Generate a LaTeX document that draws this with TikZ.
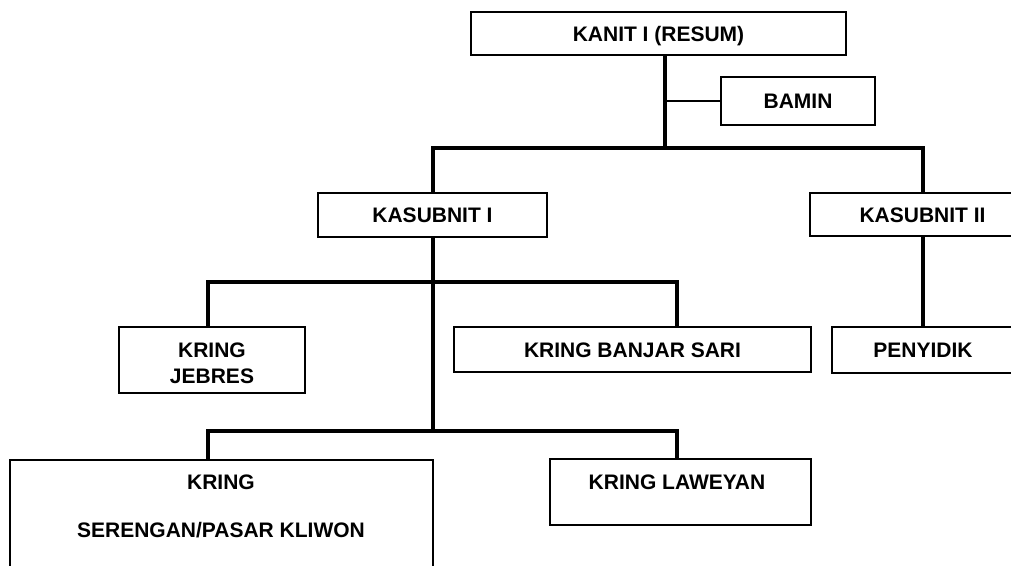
\documentclass[tikz,border=0pt]{standalone}
\usepackage{fontspec}
\setmainfont{Liberation Sans}
\begin{document}
\begin{tikzpicture}[x=1pt,y=-1pt,
  txt/.style={font=\fontsize{21}{26}\selectfont\bfseries},
  box/.style={draw, line width=2pt, rectangle, inner sep=0pt, txt, text height=15pt, text depth=0pt},
  lbl/.style={inner sep=0pt, txt, text height=15pt, text depth=0pt},
  conn/.style={line width=4pt},
  thinconn/.style={line width=1.2pt}]
\useasboundingbox (0,0) rectangle (1011,565);
\clip (0,0) rectangle (1011,565);
% boxes
\node[box, minimum width=375pt, minimum height=43pt] (kanit) at (658.5,33.5) {KANIT I (RESUM)};
\node[box, minimum width=154pt, minimum height=48pt] (bamin) at (798,101) {BAMIN};
\node[box, minimum width=229pt, minimum height=44pt] (ks1) at (432.5,215) {KASUBNIT I};
\node[box, minimum width=225pt, minimum height=43pt] (ks2) at (922.5,214.5) {KASUBNIT II};
\node[box, minimum width=186pt, minimum height=66pt] (jeb) at (212,360) {};
\node[lbl] (jebt1) at (212,350) {KRING};
\node[lbl] (jebt2) at (212,376) {JEBRES};
\node[box, minimum width=357pt, minimum height=45pt] (ban) at (632.5,349.5) {KRING BANJAR SARI};
\node[box, minimum width=182pt, minimum height=46pt] (pen) at (923,350) {PENYIDIK};
\node[box, minimum width=423pt, minimum height=140pt] (ser) at (221.5,530) {};
\node[lbl] (sert1) at (221,482) {KRING};
\node[lbl] (sert2) at (221,530) {SERENGAN/PASAR KLIWON};
\node[box, minimum width=261pt, minimum height=66pt] (law) at (680.5,492) {};
\node[lbl] (lawt) at (677,482) {KRING LAWEYAN};
% junction points
\coordinate (j1) at (665,148);
\coordinate (b2l) at (208,282);
\coordinate (b2r) at (677,282);
\coordinate (b3) at (433,431);
\coordinate (b3l) at (208,431);
\coordinate (b3r) at (677,431);
% connectors
\draw[conn] (kanit.south -| j1) -- (j1);
\draw[thinconn] (j1 |- bamin.west) -- (bamin.west);
\draw[conn] (ks1.north) -- (ks1.north |- j1) -- (ks2.north |- j1) -- (ks2.north);
\draw[conn] (ks1.south) -- (ks1.south |- b3);
\draw[conn] (jeb.north -| b2l) -- (b2l) -- (b2r) -- (ban.north -| b2r);
\draw[conn] (ser.north -| b3l) -- (b3l) -- (b3r) -- (law.north -| b3r);
\draw[conn] (ks2.south) -- (ks2.south |- pen.north);
\end{tikzpicture}
\end{document}
